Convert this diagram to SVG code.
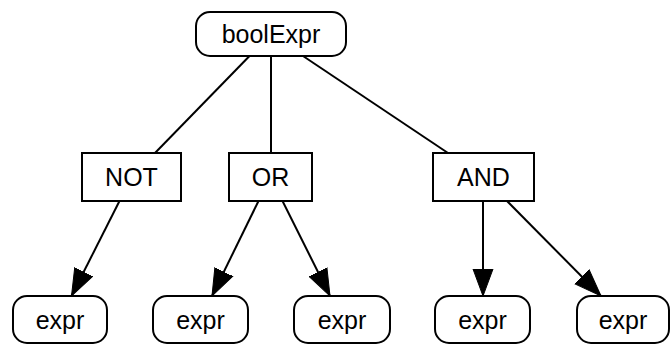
<svg xmlns="http://www.w3.org/2000/svg" width="671" height="348" viewBox="0 0 671 348">
<style>
.n{fill:#fff;stroke:#000;stroke-width:2}
.t{font-family:"Liberation Sans",Arial,sans-serif;font-size:25px;text-anchor:middle;fill:#000}
.e{stroke:#000;stroke-width:2;fill:none}
</style>
<defs>
<marker id="ah" markerUnits="userSpaceOnUse" markerWidth="28" markerHeight="22" refX="27" refY="11" orient="auto">
<path d="M0,1 L27,11 L0,21 Z" fill="#000" stroke="#000" stroke-width="1"/>
</marker>
</defs>
<rect width="671" height="348" fill="#fff"/>
<g id="edges">
<line class="e" x1="249.5" y1="56" x2="155" y2="153"/>
<line class="e" x1="271" y1="56" x2="271" y2="153"/>
<line class="e" x1="303" y1="56" x2="448" y2="153"/>
<line class="e" x1="119.5" y1="201" x2="71.5" y2="296" marker-end="url(#ah)"/>
<line class="e" x1="258.5" y1="201" x2="212" y2="296" marker-end="url(#ah)"/>
<line class="e" x1="282.5" y1="201" x2="330" y2="296" marker-end="url(#ah)"/>
<line class="e" x1="483" y1="201" x2="483" y2="296" marker-end="url(#ah)"/>
<line class="e" x1="507" y1="201" x2="601" y2="296" marker-end="url(#ah)"/>
</g>
<g id="boolExpr"><rect class="n" x="196" y="12" width="150" height="44" rx="14"/><text class="t" x="271" y="43">boolExpr</text></g>
<g id="NOT"><rect class="n" x="82" y="153" width="99" height="48"/><text class="t" x="131.5" y="186">NOT</text></g>
<g id="OR"><rect class="n" x="229" y="153" width="83" height="48"/><text class="t" x="270.5" y="186">OR</text></g>
<g id="AND"><rect class="n" x="433" y="153" width="101" height="48"/><text class="t" x="483.5" y="186">AND</text></g>
<g id="expr1"><rect class="n" x="13" y="296" width="94" height="47" rx="14"/><text class="t" x="60" y="329">expr</text></g>
<g id="expr2"><rect class="n" x="153" y="296" width="95" height="47" rx="14"/><text class="t" x="200.5" y="329">expr</text></g>
<g id="expr3"><rect class="n" x="294" y="296" width="96" height="47" rx="14"/><text class="t" x="342" y="329">expr</text></g>
<g id="expr4"><rect class="n" x="435" y="296" width="95" height="47" rx="14"/><text class="t" x="482.5" y="329">expr</text></g>
<g id="expr5"><rect class="n" x="577" y="296" width="92" height="47" rx="14"/><text class="t" x="623" y="329">expr</text></g>
</svg>
